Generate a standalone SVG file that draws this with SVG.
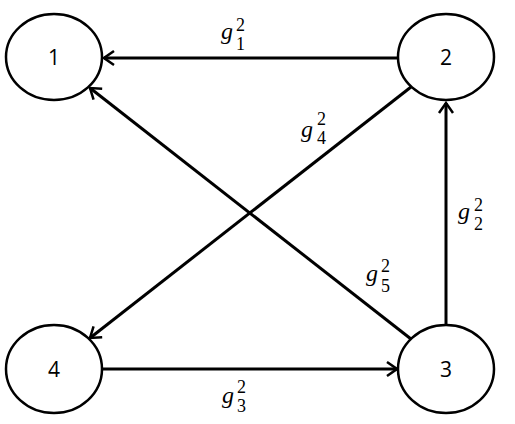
<svg xmlns="http://www.w3.org/2000/svg" width="515" height="424" viewBox="0 0 515 424">
<style>
.node ellipse{fill:#fff;stroke:#000;stroke-width:2.5}
.node text{font-family:"Open Sans","Liberation Sans",sans-serif;font-size:21px;text-anchor:middle;fill:#000}
.edge{stroke:#000;stroke-width:3;fill:none;marker-end:url(#arr)}
.g{font-family:"Liberation Serif","DejaVu Serif",serif;font-style:italic;font-size:24px;fill:#000}
.n{font-family:"Liberation Serif","DejaVu Serif",serif;font-size:18px;fill:#000}
</style>
<defs>
<marker id="arr" viewBox="-13 -9 15 18" markerWidth="15" markerHeight="18" refX="0" refY="0" orient="auto" markerUnits="userSpaceOnUse">
<path d="M-10,-7 L0,0 L-10,7" fill="none" stroke="#000" stroke-width="2.5"/>
</marker>
</defs>
<rect width="515" height="424" fill="#fff"/>
<g id="connectors">
<line class="edge" x1="398" y1="58" x2="104" y2="58"/>
<line class="edge" x1="103" y1="369" x2="397" y2="369"/>
<line class="edge" x1="446" y1="326" x2="446" y2="103"/>
<line class="edge" x1="411" y1="87" x2="90" y2="338"/>
<line class="edge" x1="411" y1="339" x2="90" y2="88"/>
</g>
<g id="labels">
<text class="g" x="221" y="39">g</text><text class="n" x="236" y="31">2</text><text class="n" x="236" y="50">1</text>
<text class="g" x="301" y="137">g</text><text class="n" x="317" y="125">2</text><text class="n" x="317" y="144">4</text>
<text class="g" x="458" y="219">g</text><text class="n" x="474" y="211">2</text><text class="n" x="474" y="230">2</text>
<text class="g" x="366" y="281">g</text><text class="n" x="381" y="272">2</text><text class="n" x="381" y="292">5</text>
<text class="g" x="222" y="403">g</text><text class="n" x="237" y="393">2</text><text class="n" x="237" y="412">3</text>
</g>
<g id="node1" class="node"><ellipse cx="54" cy="57" rx="48" ry="43"/><text x="54" y="65">1</text></g>
<g id="node2" class="node"><ellipse cx="446" cy="57" rx="48" ry="43"/><text x="446" y="65">2</text></g>
<g id="node3" class="node"><ellipse cx="446" cy="369" rx="48" ry="44"/><text x="446" y="377">3</text></g>
<g id="node4" class="node"><ellipse cx="54" cy="369" rx="48" ry="44"/><text x="54" y="377">4</text></g>
</svg>
